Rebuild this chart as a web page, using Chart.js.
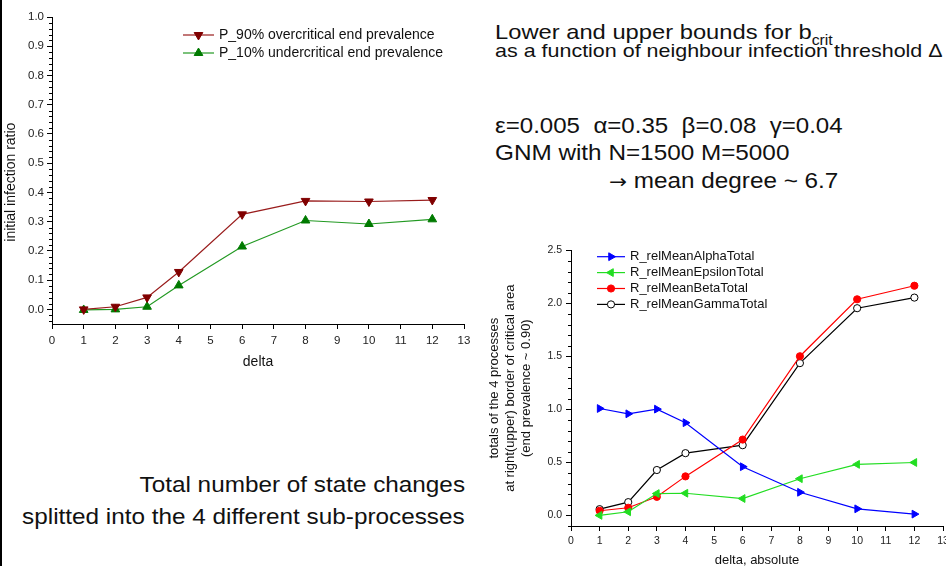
<!DOCTYPE html>
<html lang="en">
<head>
  <meta charset="UTF-8">
  <title>Critical bounds and sub-process totals</title>
  <script src="https://cdn.jsdelivr.net/npm/chart.js"></script>
  <style>
    html, body {
      margin: 0;
      width: 946px;
      height: 566px;
      overflow: hidden;
      background: #fff;
      font-family: "Liberation Sans", Arial, sans-serif;
      color: #111;
    }
    body { position: relative; }
    canvas { position: absolute; }
    #edge { position: absolute; left: 0; top: 0; width: 2px; height: 566px; background: #000; }
    .txt { position: absolute; white-space: nowrap; transform: scaleX(1.13); transform-origin: 0 50%; }
    .right { transform-origin: 100% 50%; text-align: right; }
    .arrow { font-family: "DejaVu Sans", sans-serif; font-size: 19px; }
  </style>
</head>
<body>
  <div id="edge"></div>
  <canvas id="boundsChart" width="480" height="370" style="left:0;top:0"></canvas>
  <canvas id="totalsChart" width="480" height="326" style="left:487px;top:240px"></canvas>

  <div class="txt" style="left:495px;top:19px;font-size:21px;line-height:25px">Lower and upper bounds for b<span style="font-size:14px;position:relative;top:6px">crit</span></div>
  <div class="txt" style="left:495px;top:39px;font-size:19px;line-height:23px">as a function of neighbour infection threshold &Delta;</div>
  <div class="txt" style="left:495px;top:113px;font-size:21.3px;line-height:26px">&epsilon;=0.005&nbsp; &alpha;=0.35&nbsp; &beta;=0.08&nbsp; &gamma;=0.04</div>
  <div class="txt" style="left:495px;top:140px;font-size:21.5px;line-height:26px">GNM with N=1500 M=5000</div>
  <div class="txt" style="left:609px;top:168px;font-size:21.5px;line-height:26px"><span class="arrow">&rarr;</span> mean degree ~ 6.7</div>
  <div class="txt right" style="right:481px;top:472px;font-size:21.5px;line-height:26px">Total number of state changes</div>
  <div class="txt right" style="right:481px;top:504px;font-size:21.5px;line-height:26px">splitted into the 4 different sub-processes</div>

  <script>
    // values
    const deltaValues = [1, 2, 3, 4, 6, 8, 10, 12];
    const p90Over = [0.000, 0.009, 0.041, 0.128, 0.325, 0.371, 0.369, 0.374];
    const p10Under = [-0.002, 0.000, 0.009, 0.082, 0.215, 0.304, 0.292, 0.308];

    const alphaTotal = [1.008, 0.958, 1.002, 0.874, 0.459, 0.218, 0.062, 0.012];
    const epsilonTotal = [0.000, 0.034, 0.206, 0.209, 0.159, 0.346, 0.481, 0.499];
    const betaTotal = [0.044, 0.072, 0.175, 0.368, 0.715, 1.501, 2.038, 2.166];
    const gammaTotal = [0.059, 0.125, 0.428, 0.587, 0.662, 1.436, 1.954, 2.054];

    const xTicks = [0, 1, 2, 3, 4, 5, 6, 7, 8, 9, 10, 11, 12, 13];
    const leftYTicks = [0.0, 0.1, 0.2, 0.3, 0.4, 0.5, 0.6, 0.7, 0.8, 0.9, 1.0];
    const rightYTicks = [0.0, 0.5, 1.0, 1.5, 2.0, 2.5];

    Chart.defaults.font.family = "'Liberation Sans', Arial, sans-serif";
    Chart.defaults.color = '#222';

    const pts = (ys) => ys.map((y, i) => ({ x: deltaValues[i], y: y }));
    const tickList = (arr) => (scale) => { scale.ticks = arr.map(v => ({ value: v })); };

    // small unlabelled ticks between the labelled ones on the y axis
    const minorTicks = {
      id: 'minorTicks',
      afterDraw(chart, args, o) {
        const s = chart.scales.y, ctx = chart.ctx;
        const k0 = Math.ceil(s.min / o.step - 1e-6), k1 = Math.floor(s.max / o.step + 1e-6);
        ctx.save();
        ctx.strokeStyle = '#000';
        ctx.lineWidth = 1;
        for (let k = k0; k <= k1; k++) {
          if (k % o.every === 0) continue;
          const y = Math.round(s.getPixelForValue(k * o.step)) + 0.5;
          ctx.beginPath();
          ctx.moveTo(s.right - o.length, y);
          ctx.lineTo(s.right, y);
          ctx.stroke();
        }
        ctx.restore();
      }
    };

    // legend box drawn inside the plot area
    const insetLegend = {
      id: 'insetLegend',
      afterDraw(chart, args, o) {
        const ctx = chart.ctx;
        chart.data.datasets.forEach((ds, i) => {
          const y = o.y + i * o.rowHeight;
          ctx.save();
          ctx.strokeStyle = ds.borderColor;
          ctx.lineWidth = ds.borderWidth;
          ctx.beginPath();
          ctx.moveTo(o.x, y);
          ctx.lineTo(o.x + o.lineLength, y);
          ctx.stroke();
          ctx.fillStyle = ds.pointBackgroundColor;
          ctx.strokeStyle = ds.pointBorderColor;
          ctx.lineWidth = 1;
          Chart.helpers.drawPoint(ctx, {
            pointStyle: ds.pointStyle, rotation: ds.pointRotation || 0,
            radius: ds.pointRadius, borderWidth: 1
          }, o.x + o.lineLength / 2, y);
          ctx.fillStyle = '#111';
          ctx.font = o.font;
          ctx.textAlign = 'left';
          ctx.textBaseline = 'middle';
          ctx.fillText(ds.label, o.x + o.lineLength + o.gap, y);
          ctx.restore();
        });
      }
    };

    const axisBase = {
      type: 'linear',
      grid: { drawOnChartArea: false, drawTicks: true, tickLength: 5, tickColor: '#000', tickWidth: 1 },
      border: { color: '#000', width: 1 }
    };

    function series(label, data, color, lineColor, style, rotation, radius, fillColor) {
      return {
        label: label,
        data: pts(data),
        borderColor: lineColor,
        borderWidth: 1.2,
        pointStyle: style,
        pointRotation: rotation,
        pointRadius: radius,
        pointBackgroundColor: fillColor || color,
        pointBorderColor: color,
        pointBorderWidth: 1,
        fill: false,
        tension: 0
      };
    }

    new Chart(document.getElementById('boundsChart'), {
      type: 'line',
      data: {
        datasets: [
          series('P_90% overcritical end prevalence', p90Over, '#800000', '#991c1c', 'triangle', 180, 5),
          series('P_10% undercritical end prevalence', p10Under, '#007a00', '#229922', 'triangle', 0, 5)
        ]
      },
      options: {
        responsive: false,
        animation: false,
        devicePixelRatio: 1,
        layout: { padding: { top: 17, right: 16, left: 0, bottom: 0 } },
        plugins: {
          legend: { display: false },
          tooltip: { enabled: false },
          minorTicks: { step: 0.02, every: 5, length: 3 },
          insetLegend: { x: 183, y: 35, rowHeight: 18, lineLength: 31, gap: 5, font: "14px 'Liberation Sans', Arial, sans-serif" }
        },
        scales: {
          x: Object.assign({}, axisBase, {
            min: 0, max: 13,
            afterBuildTicks: tickList(xTicks),
            afterFit: (s) => { s.height = 46; },
            ticks: { font: { size: 11.5 }, padding: 5, autoSkip: false, maxRotation: 0 },
            title: { display: true, text: 'delta', font: { size: 14 }, color: '#111', padding: { top: 0, bottom: -1 } }
          }),
          y: Object.assign({}, axisBase, {
            min: -0.05, max: 1.0,
            afterBuildTicks: tickList(leftYTicks),
            afterFit: (s) => { s.width = 52; },
            ticks: { font: { size: 11.5 }, padding: 3, callback: (v) => v.toFixed(1) },
            // trailing spaces push the rotated title a little lower, as in the source
            title: { display: true, text: 'initial infection ratio      ', font: { size: 14 }, color: '#111', padding: { top: 3, bottom: 0 } }
          })
        }
      },
      plugins: [minorTicks, insetLegend]
    });

    new Chart(document.getElementById('totalsChart'), {
      type: 'line',
      data: {
        datasets: [
          series('R_relMeanAlphaTotal', alphaTotal, '#0000ff', '#0000ff', 'triangle', 90, 4.5),
          series('R_relMeanEpsilonTotal', epsilonTotal, '#22dd22', '#22dd22', 'triangle', -90, 4.5),
          series('R_relMeanBetaTotal', betaTotal, '#ff0000', '#ff0000', 'circle', 0, 3.6),
          series('R_relMeanGammaTotal', gammaTotal, '#000000', '#000000', 'circle', 0, 3.6, '#ffffff')
        ]
      },
      options: {
        responsive: false,
        animation: false,
        devicePixelRatio: 1,
        layout: { padding: { top: 8, right: 24, left: 0, bottom: 0 } },
        plugins: {
          legend: { display: false },
          tooltip: { enabled: false },
          minorTicks: { step: 0.1, every: 5, length: 3 },
          insetLegend: { x: 110, y: 16.7, rowHeight: 15.9, lineLength: 28, gap: 5, font: "13px 'Liberation Sans', Arial, sans-serif" }
        },
        scales: {
          x: Object.assign({}, axisBase, {
            min: 0, max: 13,
            afterBuildTicks: tickList(xTicks),
            afterFit: (s) => { s.height = 40; },
            ticks: { font: { size: 10.5 }, padding: 4, autoSkip: false, maxRotation: 0 },
            title: { display: true, text: 'delta, absolute', font: { size: 13, lineHeight: 1 }, color: '#111', padding: { top: 0, bottom: -1 } }
          }),
          y: Object.assign({}, axisBase, {
            min: -0.1, max: 2.5,
            afterBuildTicks: tickList(rightYTicks),
            afterFit: (s) => { s.width = 84; },
            ticks: { font: { size: 10.5 }, padding: 4, callback: (v) => v.toFixed(1) },
            title: {
              display: true,
              text: ['totals of the 4 processes', 'at right(upper) border of critical area', '(end prevalence ~ 0.90)'],
              font: { size: 13, lineHeight: 1.2 }, color: '#111', padding: { top: 0, bottom: 0 }
            }
          })
        }
      },
      plugins: [minorTicks, insetLegend]
    });
  </script>
</body>
</html>
